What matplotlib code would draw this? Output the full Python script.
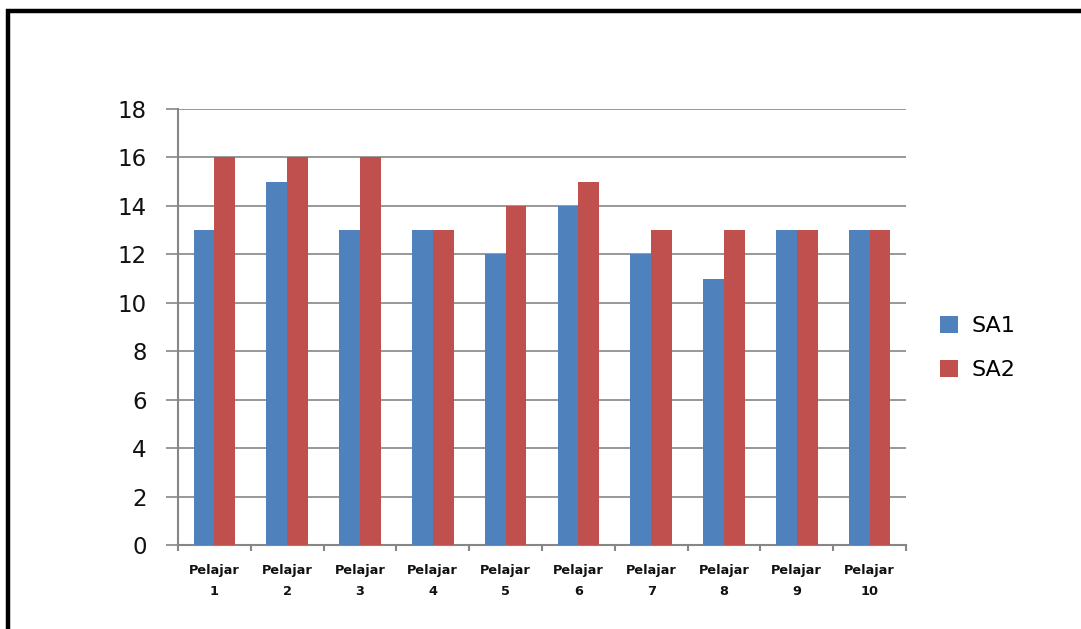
import matplotlib
matplotlib.use("Agg")
import matplotlib.pyplot as plt
from matplotlib.patches import Rectangle, Patch
import numpy as np

categories = ["Pelajar\n1", "Pelajar\n2", "Pelajar\n3", "Pelajar\n4", "Pelajar\n5",
              "Pelajar\n6", "Pelajar\n7", "Pelajar\n8", "Pelajar\n9", "Pelajar\n10"]
sa1 = [13, 15, 13, 13, 12, 14, 12, 11, 13, 13]
sa2 = [16, 16, 16, 13, 14, 15, 13, 13, 13, 13]
series_names = ["SA1", "SA2"]
yticks = [0, 2, 4, 6, 8, 10, 12, 14, 16, 18]

W, H = 1081, 629
fig = plt.figure(figsize=(W / 100, H / 100), dpi=100)
fig.patch.set_facecolor("white")

ax = fig.add_axes([178 / W, 1 - 545 / H, (906 - 178) / W, (545 - 109) / H])

blue = "#4F81BD"
red = "#C0504D"
grid = "#868686"

x = np.arange(len(categories))
bw = 1 / 3.5
ax.bar(x - bw / 2, sa1, width=bw, color=blue, zorder=3)
ax.bar(x + bw / 2, sa2, width=bw, color=red, zorder=3)

ax.set_xlim(-0.5, len(categories) - 0.5)
ax.set_ylim(0, 18)
ax.set_yticks(yticks)
ax.set_yticklabels([str(v) for v in yticks], fontsize=16.5, color="#111111")
ax.yaxis.grid(True, color=grid, linewidth=1.2, zorder=0)
ax.tick_params(axis="y", length=8.6, width=1.2, color=grid, pad=14)

ax.set_xticks(x)
ax.set_xticklabels(categories, fontsize=9.3, fontweight="bold", color="#111111",
                   linespacing=1.75)
ax.set_xticks(np.arange(-0.5, len(categories), 1.0), minor=True)
ax.tick_params(axis="x", which="major", length=0, pad=14)
ax.tick_params(axis="x", which="minor", length=4.5, width=1.5, color=grid)

for s in ["top", "right"]:
    ax.spines[s].set_visible(False)
for s in ["left", "bottom"]:
    ax.spines[s].set_color(grid)
    ax.spines[s].set_linewidth(1.5)

handles = [Patch(facecolor=blue), Patch(facecolor=red)]
fig.legend(handles, series_names, loc="center left",
           bbox_to_anchor=(920 / W, 1 - 348 / H), frameon=False, fontsize=16,
           handlelength=0.8, handleheight=0.8, handletextpad=0.6, labelspacing=1.1)

fig.patches.append(Rectangle((8 / W, -0.5), 2.0, 1.5 - 11 / H,
                             transform=fig.transFigure, fill=False,
                             edgecolor="black", linewidth=3.2))

fig.savefig("out.png", dpi=100, facecolor="white")
